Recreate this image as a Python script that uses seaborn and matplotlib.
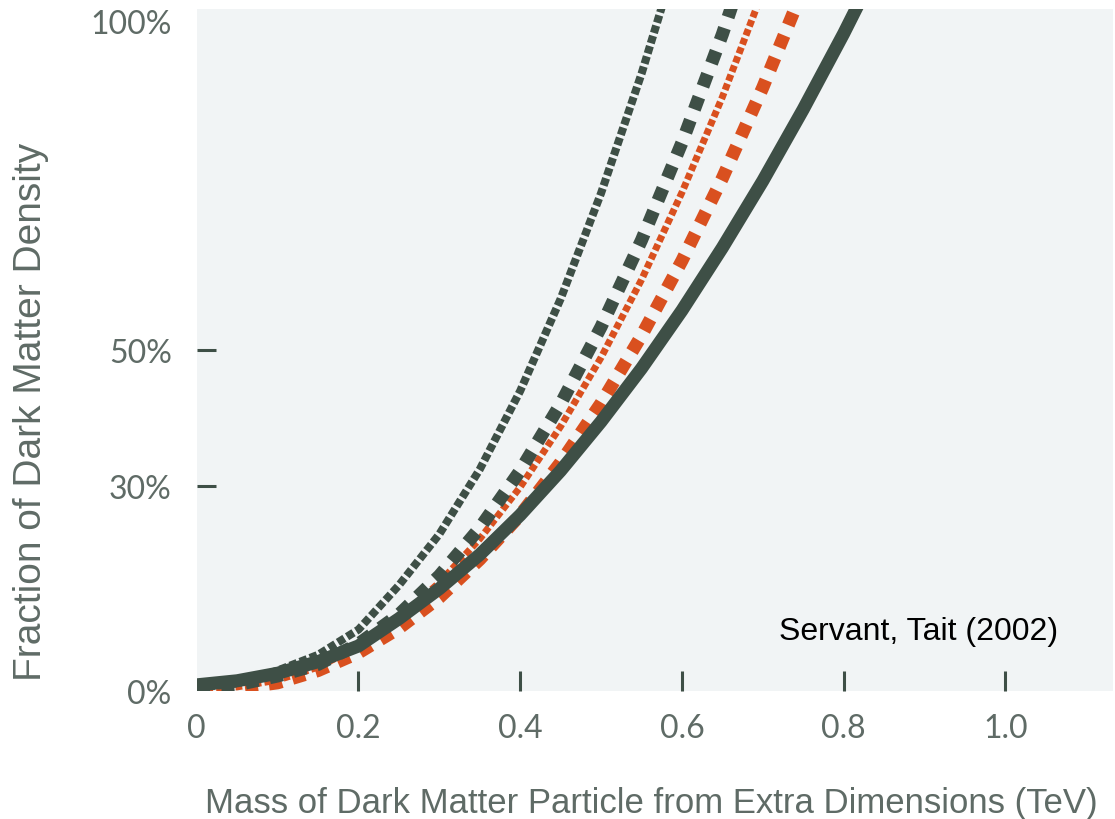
import matplotlib
matplotlib.use("Agg")
import matplotlib.pyplot as plt
import seaborn as sns

# ---- data ----
mass_tev = [0.00, 0.05, 0.10, 0.15, 0.20, 0.25, 0.30, 0.35, 0.40, 0.45,
            0.50, 0.55, 0.60, 0.65, 0.70, 0.75, 0.80, 0.85]
dark_fine = [0.5, 1.1, 3.0, 5.3, 9.0, 15.5, 23.0, 32.5, 44.0, 57.5, 73.0, 90.5, 110.0]
dark_coarse = [0.4, 0.9, 2.2, 3.9, 6.9, 11.2, 16.9, 23.9, 32.3, 42.1, 53.4, 66.1, 80.4, 96.3, 114.0]
orange_fine = [0.3, 0.6, 1.6, 3.5, 6.5, 10.6, 15.9, 22.3, 29.9, 38.8, 48.9, 60.3, 73.1, 87.1, 102.6]
orange_coarse = [0.2, 0.4, 1.2, 3.0, 5.6, 9.2, 13.7, 19.3, 25.8, 33.5, 42.2, 52.1, 63.1, 75.2, 88.5, 103.0]
solid_curve = [0.9, 1.5, 2.6, 4.3, 6.6, 10.6, 15.0, 20.0, 25.8, 32.3, 39.5, 47.3, 55.8, 65.0,
               74.8, 85.3, 96.4, 108.2]

x_ticks = [0, 0.2, 0.4, 0.6, 0.8, 1.0]
x_tick_labels = ["0", "0.2", "0.4", "0.6", "0.8", "1.0"]
y_ticks = [0, 30, 50, 100]
y_tick_labels = ["0%", "30%", "50%", "100%"]
x_label = "Mass of Dark Matter Particle from Extra Dimensions (TeV)"
y_label = "Fraction of Dark Matter Density"
credit = "Servant, Tait (2002)"

# ---- style ----
sns.set_style("white")
DARK = "#3e4f46"
ORANGE = "#d9501f"
GRAY = "#5f6b66"
BG = "#f1f4f5"

W, H = 1115, 820
fig = plt.figure(figsize=(W / 100, H / 100), dpi=100)
ax = fig.add_axes([196.7 / W, 128 / H, 916.3 / W, 682 / H])
ax.set_facecolor(BG)


def draw(values, color, lw, pattern=None, z=2):
    n = len(values)
    kw = dict(x=mass_tev[:n], y=values, color=color, linewidth=lw, ax=ax,
              estimator=None, zorder=z, solid_capstyle="butt", dash_capstyle="butt")
    if pattern is not None:
        kw["linestyle"] = (0, pattern)
    sns.lineplot(**kw)


draw(orange_coarse, ORANGE, 9.4, (1.0, 0.85), z=2)
draw(orange_fine, ORANGE, 5.0, (0.95, 0.45), z=3)
draw(dark_fine, DARK, 5.8, (0.95, 0.38), z=4)
draw(dark_coarse, DARK, 9.4, (1.0, 0.88), z=5)
draw(solid_curve, DARK, 9.4, None, z=6)

ax.set_xlim(0, 1.133)
ax.set_ylim(0, 100)
for s in ax.spines.values():
    s.set_visible(False)
ax.grid(False)

ax.set_xticks(x_ticks)
ax.set_xticklabels(x_tick_labels)
ax.set_yticks(y_ticks)
ax.set_yticklabels(y_tick_labels)
ax.tick_params(axis="x", bottom=True, direction="in", length=14.4, width=2.2, color=DARK,
               pad=16, labelsize=23, labelcolor=GRAY)
ax.tick_params(axis="y", left=True, direction="in", length=13.7, width=2.2, color=DARK,
               pad=18, labelsize=23, labelcolor=GRAY)
for lab in ax.get_xticklabels() + ax.get_yticklabels():
    lab.set_fontfamily("Lato")
    lab.set_fontweight("normal")

xt = ax.xaxis.get_major_ticks()
xt[0].tick1line.set_visible(False)
yt = ax.yaxis.get_major_ticks()
yt[0].tick1line.set_visible(False)
yt[-1].tick1line.set_visible(False)
yt[-1].label1.set_va("top")

ax.set_xlabel(x_label, fontsize=25, color=GRAY, family="Liberation Sans")
ax.xaxis.label.set_va("center")
ax.xaxis.set_label_coords(0.4958, -0.1628)
ax.set_ylabel(y_label, fontsize=28, color=GRAY, family="Liberation Sans")
ax.yaxis.label.set_va("center")
ax.yaxis.set_label_coords(-0.1808, 0.4106)

ax.text(0.7195, 8.8, credit, fontsize=23, family="Liberation Sans", color="black",
        ha="left", va="center", zorder=10)

fig.savefig("out.png", dpi=100)
